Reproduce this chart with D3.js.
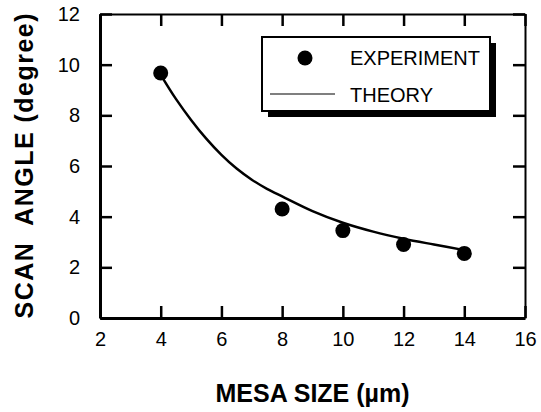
<!DOCTYPE html>
<html>
<head>
  <meta charset="utf-8">
  <script src="https://d3js.org/d3.v7.min.js"></script>
  <style>
    body { margin: 0; background: #fff; font-family: 'Liberation Sans', Arial, sans-serif; }
  </style>
</head>
<body>
  <div id="my_dataviz"></div>
  <script>
    // experiment points
    var mesaSize = [4, 8, 10, 12, 14];
    var scanAngle = [9.67, 4.3, 3.45, 2.9, 2.55];

    // theory curve
    var theorySize = [4, 4.5, 5, 5.5, 6, 6.5, 7, 7.5, 8, 9, 10, 11, 12, 13, 14];
    var theoryAngle = [9.6, 8.65, 7.82, 7.08, 6.44, 5.9, 5.46, 5.1, 4.8, 4.22, 3.76, 3.41, 3.13, 2.9, 2.68];

    var xTicks = [2, 4, 6, 8, 10, 12, 14, 16];
    var yTicks = [0, 2, 4, 6, 8, 10, 12];

    var margin = { top: 14, right: 16, bottom: 94, left: 100 },
      width = 541 - margin.left - margin.right,
      height = 412 - margin.top - margin.bottom;

    var svg = d3.select("#my_dataviz")
      .append("svg")
      .attr("width", width + margin.left + margin.right)
      .attr("height", height + margin.top + margin.bottom)
      .append("g")
      .attr("transform", "translate(" + margin.left + "," + margin.top + ")");

    var x = d3.scaleLinear().domain([2, 16]).range([0, width]);
    var y = d3.scaleLinear().domain([0, 12]).range([height, 0]);

    // axes, ticks pointing inward
    function styleAxis(g, w) {
      g.select(".domain").attr("stroke", "#000").attr("stroke-width", w);
      g.selectAll(".tick line").attr("stroke", "#000").attr("stroke-width", 2.5);
      g.selectAll(".tick text").attr("fill", "#000")
        .style("font-family", "'Liberation Sans', Arial, sans-serif")
        .style("font-size", "20px");
    }

    svg.append("g")
      .attr("transform", "translate(0," + height + ")")
      .call(d3.axisBottom(x).tickValues(xTicks).tickSizeInner(-12).tickSizeOuter(0).tickPadding(14))
      .call(styleAxis, 3);

    svg.append("g")
      .call(d3.axisLeft(y).tickValues(yTicks).tickSizeInner(-12).tickSizeOuter(0).tickPadding(20))
      .call(styleAxis, 3);

    svg.append("g")
      .call(d3.axisTop(x).tickValues(xTicks).tickSizeInner(-12).tickSizeOuter(0).tickFormat(""))
      .call(styleAxis, 2);

    svg.append("g")
      .attr("transform", "translate(" + width + ",0)")
      .call(d3.axisRight(y).tickValues(yTicks).tickSizeInner(-12).tickSizeOuter(0).tickFormat(""))
      .call(styleAxis, 2);

    // axis titles
    svg.append("text")
      .attr("x", width / 2)
      .attr("y", height + 84)
      .attr("text-anchor", "middle")
      .style("font-weight", "bold")
      .style("font-size", "25px")
      .text("MESA SIZE (\u00b5m)");

    svg.append("text")
      .attr("transform", "translate(" + (-67) + "," + (height / 2) + ")rotate(-90)")
      .attr("text-anchor", "middle")
      .attr("textLength", 305)
      .attr("lengthAdjust", "spacing")
      .style("font-weight", "bold")
      .style("font-size", "25px")
      .style("white-space", "pre")
      .text("SCAN  ANGLE (degree)");

    // theory line
    var theory = theorySize.map(function (d, i) { return [d, theoryAngle[i]]; });
    svg.append("path")
      .datum(theory)
      .attr("fill", "none")
      .attr("stroke", "#000")
      .attr("stroke-width", 2.5)
      .attr("d", d3.line()
        .x(function (d) { return x(d[0]); })
        .y(function (d) { return y(d[1]); })
        .curve(d3.curveCatmullRom));

    // experiment dots
    svg.selectAll("dot")
      .data(mesaSize)
      .enter()
      .append("circle")
      .attr("cx", function (d) { return x(d); })
      .attr("cy", function (d, i) { return y(scanAngle[i]); })
      .attr("r", 7.5)
      .attr("fill", "#000");

    // legend box with drop shadow
    var lg = svg.append("g").attr("transform", "translate(162,23)");
    lg.append("rect")
      .attr("x", 6).attr("y", 6)
      .attr("width", 228).attr("height", 74)
      .attr("fill", "#000");
    lg.append("rect")
      .attr("width", 228).attr("height", 74)
      .attr("fill", "#fff")
      .attr("stroke", "#000")
      .attr("stroke-width", 2);
    lg.append("circle")
      .attr("cx", 43).attr("cy", 21)
      .attr("r", 7.5)
      .attr("fill", "#000");
    lg.append("line")
      .attr("x1", 8).attr("x2", 73)
      .attr("y1", 57).attr("y2", 57)
      .attr("stroke", "#000")
      .attr("stroke-width", 1.2);
    lg.append("text")
      .attr("x", 88).attr("y", 28)
      .style("font-size", "20px")
      .text("EXPERIMENT");
    lg.append("text")
      .attr("x", 88).attr("y", 65)
      .style("font-size", "20px")
      .text("THEORY");
  </script>
</body>
</html>
